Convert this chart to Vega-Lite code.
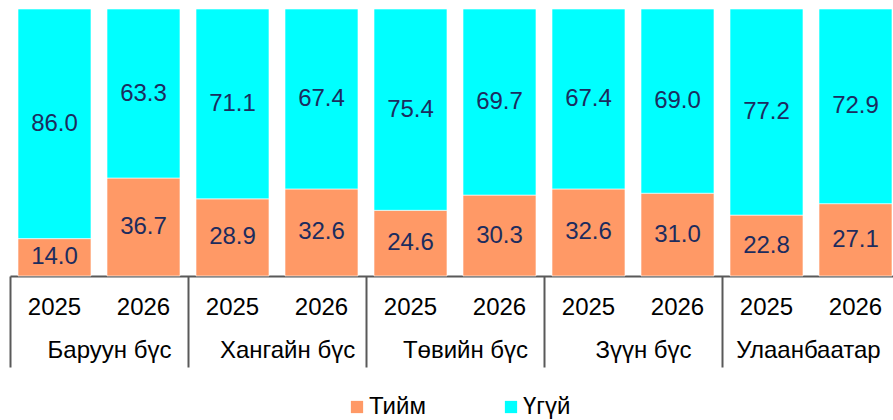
{
  "$schema": "https://vega.github.io/schema/vega-lite/v6.json",
  "width": 883,
  "height": 267,
  "autosize": {"type": "none"},
  "padding": {"left": 10, "top": 9, "right": 0, "bottom": 144},
  "background": "white",
  "config": {
    "view": {"stroke": null},
    "font": "Liberation Sans",
    "text": {"font": "Liberation Sans"}
  },
  "data": {
    "values": [
      {"region": "Баруун бүс", "year": "2025", "bar": "Баруун бүс 2025", "answer": "Тийм", "value": 14.0},
      {"region": "Баруун бүс", "year": "2025", "bar": "Баруун бүс 2025", "answer": "Үгүй", "value": 86.0},
      {"region": "Баруун бүс", "year": "2026", "bar": "Баруун бүс 2026", "answer": "Тийм", "value": 36.7},
      {"region": "Баруун бүс", "year": "2026", "bar": "Баруун бүс 2026", "answer": "Үгүй", "value": 63.3},
      {"region": "Хангайн бүс", "year": "2025", "bar": "Хангайн бүс 2025", "answer": "Тийм", "value": 28.9},
      {"region": "Хангайн бүс", "year": "2025", "bar": "Хангайн бүс 2025", "answer": "Үгүй", "value": 71.1},
      {"region": "Хангайн бүс", "year": "2026", "bar": "Хангайн бүс 2026", "answer": "Тийм", "value": 32.6},
      {"region": "Хангайн бүс", "year": "2026", "bar": "Хангайн бүс 2026", "answer": "Үгүй", "value": 67.4},
      {"region": "Төвийн бүс", "year": "2025", "bar": "Төвийн бүс 2025", "answer": "Тийм", "value": 24.6},
      {"region": "Төвийн бүс", "year": "2025", "bar": "Төвийн бүс 2025", "answer": "Үгүй", "value": 75.4},
      {"region": "Төвийн бүс", "year": "2026", "bar": "Төвийн бүс 2026", "answer": "Тийм", "value": 30.3},
      {"region": "Төвийн бүс", "year": "2026", "bar": "Төвийн бүс 2026", "answer": "Үгүй", "value": 69.7},
      {"region": "Зүүн бүс", "year": "2025", "bar": "Зүүн бүс 2025", "answer": "Тийм", "value": 32.6},
      {"region": "Зүүн бүс", "year": "2025", "bar": "Зүүн бүс 2025", "answer": "Үгүй", "value": 67.4},
      {"region": "Зүүн бүс", "year": "2026", "bar": "Зүүн бүс 2026", "answer": "Тийм", "value": 31.0},
      {"region": "Зүүн бүс", "year": "2026", "bar": "Зүүн бүс 2026", "answer": "Үгүй", "value": 69.0},
      {"region": "Улаанбаатар", "year": "2025", "bar": "Улаанбаатар 2025", "answer": "Тийм", "value": 22.8},
      {"region": "Улаанбаатар", "year": "2025", "bar": "Улаанбаатар 2025", "answer": "Үгүй", "value": 77.2},
      {"region": "Улаанбаатар", "year": "2026", "bar": "Улаанбаатар 2026", "answer": "Тийм", "value": 27.1},
      {"region": "Улаанбаатар", "year": "2026", "bar": "Улаанбаатар 2026", "answer": "Үгүй", "value": 72.9}
    ]
  },
  "layer": [
    {
      "mark": {"type": "bar", "stroke": "#ffffff", "strokeWidth": 1, "strokeOpacity": 0.6},
      "encoding": {
        "x": {
          "field": "bar", "type": "nominal", "sort": null,
          "scale": {"range": [0, 890], "paddingInner": 0.18, "paddingOuter": 0.09},
          "axis": {
            "orient": "bottom", "title": null, "ticks": false,
            "labelExpr": "slice(datum.label, -4)", "labelAngle": 0,
            "labelFont": "Liberation Sans", "labelFontSize": 24, "labelColor": "#000000",
            "labelPadding": 19, "labelOverlap": false, "labelBound": false, "labelFlush": false,
            "domainColor": "#595959", "domainWidth": 2, "grid": false
          }
        },
        "y": {"field": "value", "type": "quantitative", "stack": "zero", "scale": {"domain": [0, 100]}, "axis": null},
        "order": {"field": "answer", "sort": "ascending"},
        "color": {
          "field": "answer", "type": "nominal",
          "scale": {"domain": ["Тийм", "Үгүй"], "range": ["#FF9966", "#00FFFF"]},
          "legend": {
            "orient": "none", "legendX": 335, "legendY": 386, "direction": "horizontal",
            "title": null, "symbolType": "square", "symbolSize": 150, "symbolStrokeWidth": 0,
            "labelFont": "Liberation Sans", "labelFontSize": 24, "labelColor": "#000000",
            "labelOffset": 0, "columnPadding": 73
          }
        }
      }
    },
    {
      "mark": {"type": "text", "font": "Liberation Sans", "fontSize": 24, "color": "#1C2C5E", "baseline": "middle"},
      "encoding": {
        "x": {
          "field": "bar", "type": "nominal", "sort": null,
          "axis": {
            "orient": "bottom", "title": null, "domain": false, "grid": false,
            "values": ["Баруун бүс 2025", "Хангайн бүс 2025", "Төвийн бүс 2025", "Зүүн бүс 2025", "Улаанбаатар 2025"],
            "bandPosition": 0, "tickOffset": -8, "tickSize": 91, "tickWidth": 2, "tickColor": "#595959",
            "labelExpr": "slice(datum.label, 0, -5)", "labelAngle": 0,
            "labelOffset": {"condition": {"test": "datum.value == 'Улаанбаатар 2025'", "value": 49.5}, "value": 62.5},
            "labelFont": "Liberation Sans", "labelFontSize": 24, "labelColor": "#000000",
            "labelPadding": -29, "labelOverlap": false, "labelBound": false, "labelFlush": false
          }
        },
        "y": {"field": "value", "type": "quantitative", "stack": "zero", "bandPosition": 0.5},
        "order": {"field": "answer", "sort": "ascending"},
        "detail": {"field": "answer"},
        "text": {"field": "value", "type": "quantitative", "format": ".1f"}
      }
    }
  ],
  "resolve": {"axis": {"x": "independent"}}
}
